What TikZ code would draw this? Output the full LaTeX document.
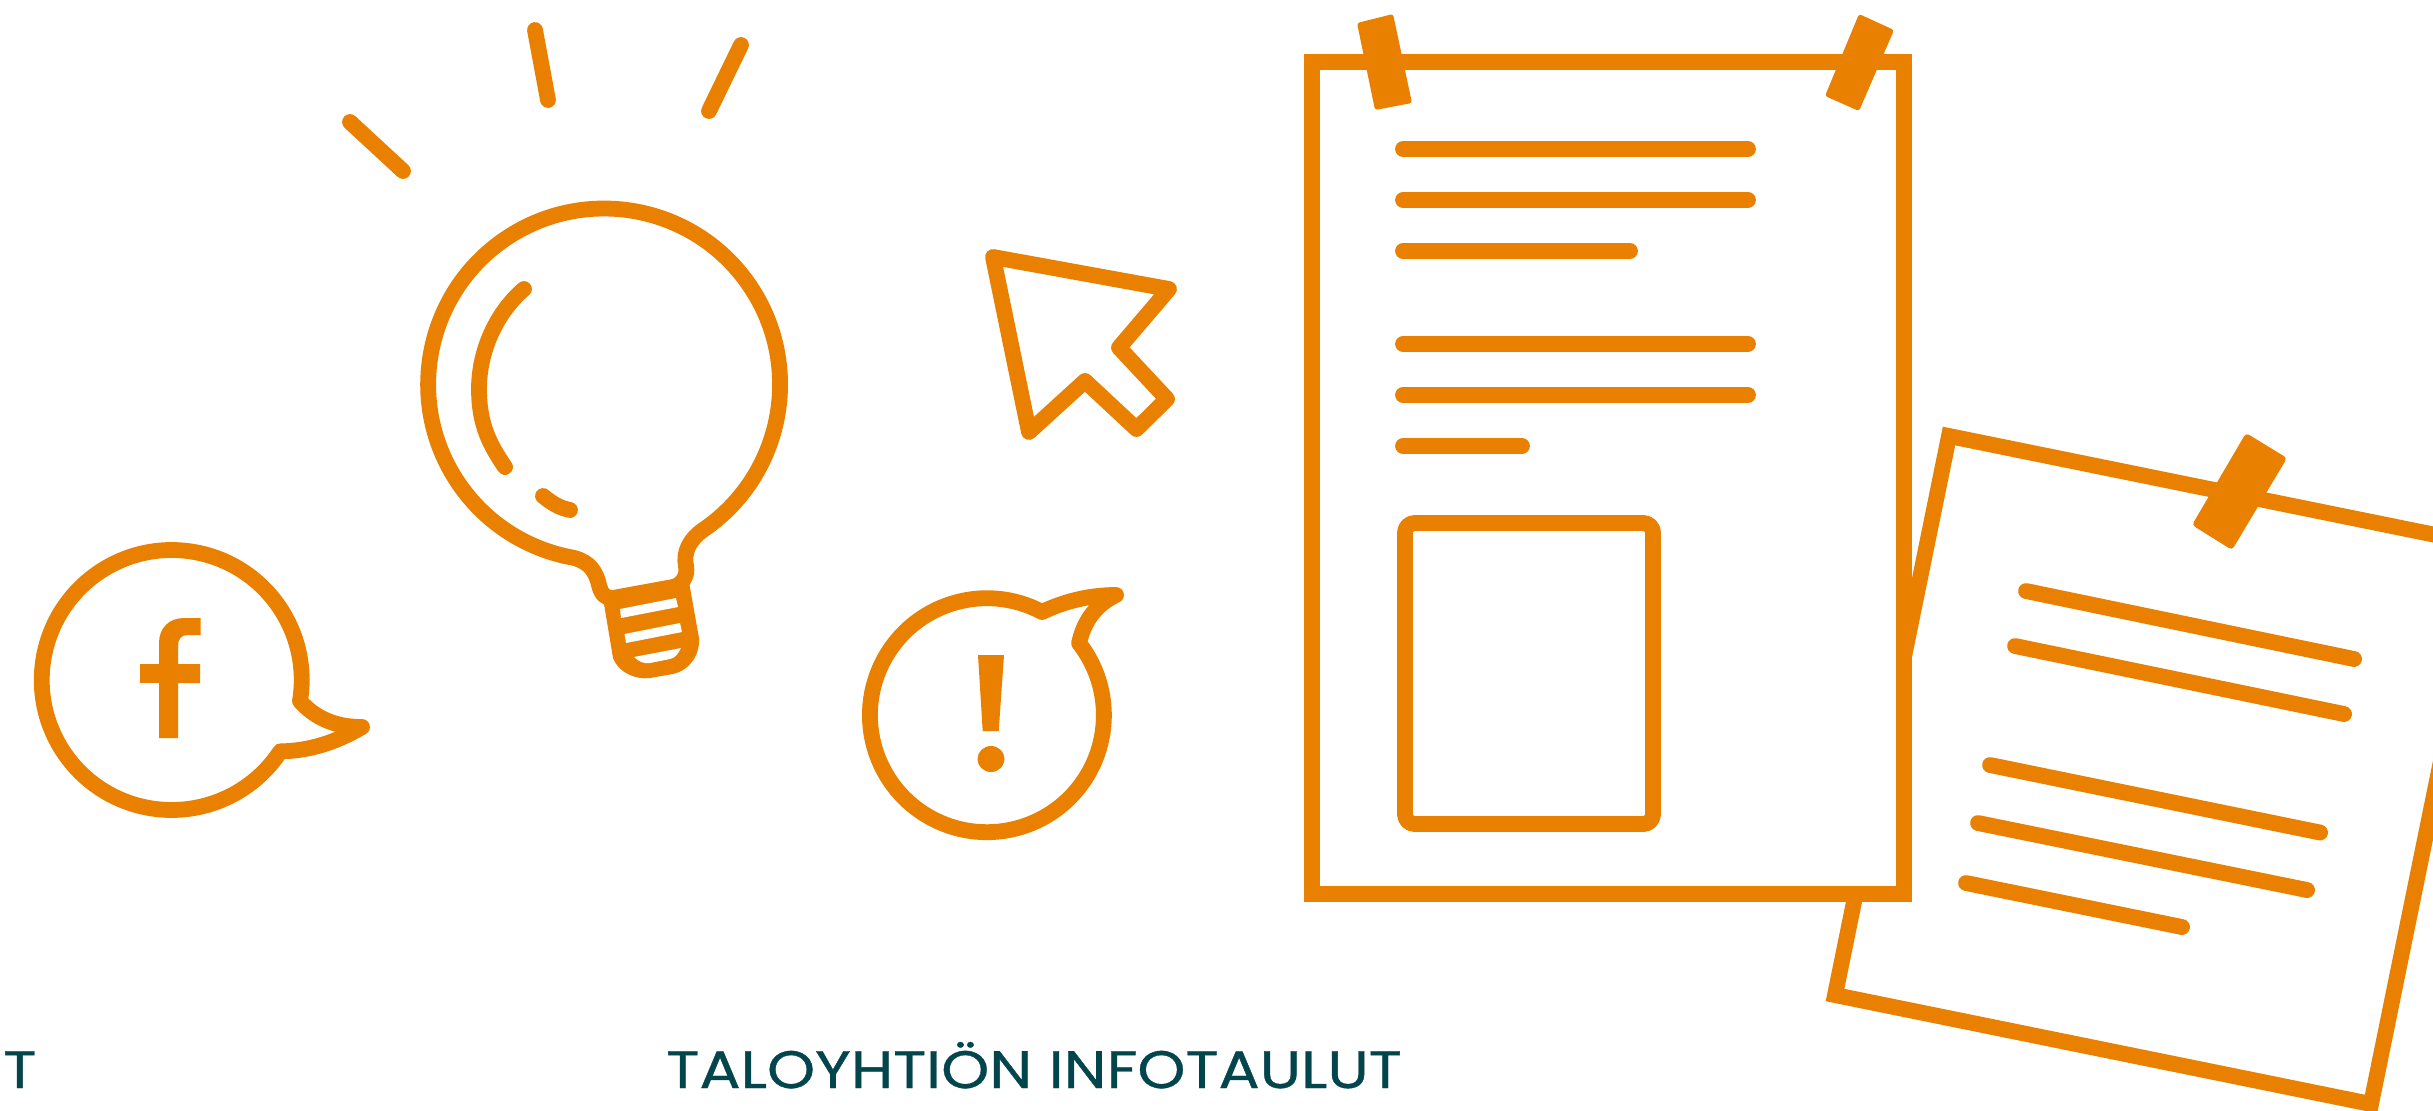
\documentclass[tikz,border=0pt]{standalone}
\usepackage{fontspec}
\setmainfont{Poppins}
\newfontfamily\titlefont[FakeStretch=1.16,FakeBold=0.7]{Poppins}
\definecolor{org}{HTML}{EA8000}
\definecolor{teal}{HTML}{03454D}
\tikzset{
  ink/.style={draw=org,line width=9pt,line join=round,line cap=round},
  sq/.style={draw=org,line width=9pt,line join=miter,line cap=butt,fill=white},
  solid ink/.style={fill=org,draw=none},
  label text/.style={inner sep=0pt,anchor=base west,text=teal,font=\titlefont\fontsize{30pt}{32pt}\selectfont}
}
\begin{document}
\begin{tikzpicture}[x=0.02cm,y=-0.02cm]
\path[fill=white] (0,0) rectangle (2433,1110);
\clip (0,0) rectangle (2433,1110);
% rays
\draw[ink] (350,122) -- (403,171);
\draw[ink] (535,30) -- (548,100);
\draw[ink] (741,45) -- (709,111);
% bulb
\draw[ink] (703,530) arc[start angle=-55.8,end angle=260,radius=3.52cm]
  .. controls (590,562) and (596,572) .. (599,585)
  .. controls (601,594) and (606,599) .. (613,598)
  -- (673,587) .. controls (682,585) and (688,576) .. (686,566)
  .. controls (683,552) and (690,539) .. (703,530);
% socket
\fill[solid ink] (603,598) -- (613,658) .. controls (618,672) and (635,680) .. (650,678)
  -- (673,674) .. controls (690,670) and (700,655) .. (699,638) -- (689,582) -- cycle;
\fill[white] (620,609) -- (676,598) -- (678,607) -- (621,618) -- cycle;
\fill[white] (624.5,634) -- (680,623) -- (682,632) -- (626,643) -- cycle;
\fill[white] (634,657) -- (681,648) .. controls (678,654) and (675,658) .. (670,659) -- (650,663) .. controls (645,664) and (639,662) .. (634,657) -- cycle;
% highlights
\draw[ink] (524,289) .. controls (497,312) and (479,350) .. (479,389) .. controls (479,425) and (490,445) .. (505,467);
\draw[ink] (543,496) .. controls (553,504) and (560,508) .. (570,510);
% facebook bubble
\draw[ink] (300,701) arc[start angle=-9.3,end angle=326.7,radius=2.6cm]
  .. controls (308,751) and (335,743) .. (362,727)
  .. controls (335,727) and (315,718) .. (300,701);
\fill[solid ink] (159,738) -- (159,643) .. controls (159,628) and (169,618) .. (184,618)
  -- (200.5,618) -- (200.5,635) -- (188,635) .. controls (181,635) and (178,639) .. (178,646)
  -- (178,664) -- (200,664) -- (200,683) -- (178,683) -- (178,738) -- cycle;
\fill[solid ink] (140,664) rectangle (162,683);
% cursor
\draw[ink] (993,257) -- (1169,289) -- (1119,347.6) -- (1167,399) -- (1136.5,429) -- (1085,381) -- (1029,432) -- cycle;
% exclamation bubble
\draw[ink] (1042,612) arc[start angle=61.9,end angle=398,radius=2.34cm]
  .. controls (1084,620) and (1097,604) .. (1116,595)
  .. controls (1090,595) and (1065,601) .. (1042,612);
\fill[solid ink] (978,655) -- (1004,655) -- (998.7,731) -- (982.7,731) -- cycle;
\fill[solid ink] (991,759) ellipse[x radius=0.27cm,y radius=0.26cm];
% second paper
\draw[sq] (1949,436) -- (2485,545) -- (2371,1104) -- (1835,995) -- cycle;
\fill[solid ink,rounded corners=2pt] (2246,433) -- (2287,458) -- (2232,550) -- (2192,525) -- cycle;
\draw[ink] (2026,591) -- (2354,659);
\draw[ink] (2015,646) -- (2344,714);
\draw[ink] (1990,765) -- (2320,832.5);
\draw[ink] (1978,823) -- (2307,890);
\draw[ink] (1966,883) -- (2182,927);
% first paper
\draw[sq] (1312,62) rectangle (1904,894);
\fill[solid ink,rounded corners=1.5pt] (1357,23) -- (1393,14) -- (1412,103) -- (1375,110) -- cycle;
\fill[solid ink,rounded corners=1.5pt] (1859,14) -- (1894,30) -- (1859,111) -- (1825,96) -- cycle;
\draw[ink] (1403,149) -- (1748,149);
\draw[ink] (1403,200) -- (1748,200);
\draw[ink] (1403,251) -- (1630,251);
\draw[ink] (1403,344) -- (1748,344);
\draw[ink] (1403,395) -- (1748,395);
\draw[ink] (1403,446) -- (1522,446);
\draw[ink,rounded corners=5.5pt] (1405,523) rectangle (1653,824);
% text
\node[label text] (cut) at (3,1088) {T};
\node[label text] (title) at (666,1088) {TALOYHTIÖN INFOTAULUT};
\end{tikzpicture}
\end{document}
